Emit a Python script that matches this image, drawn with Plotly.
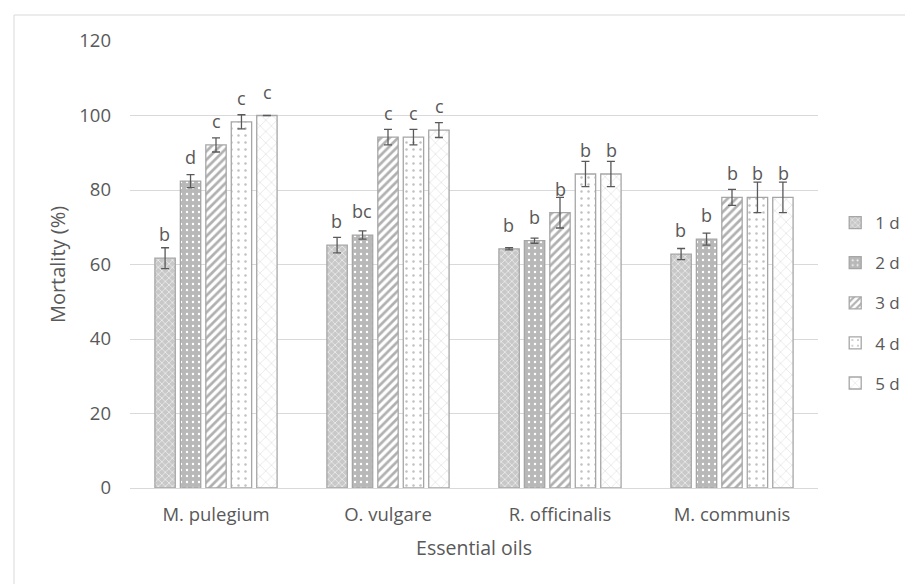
import plotly.graph_objects as go

oils = ["M. pulegium", "O. vulgare", "R. officinalis", "M. communis"]
days = ["1 d", "2 d", "3 d", "4 d", "5 d"]
mortality = {
    "1 d": [61.7, 65.2, 64.2, 62.8],
    "2 d": [82.4, 67.9, 66.4, 66.8],
    "3 d": [92.1, 94.2, 73.9, 78.0],
    "4 d": [98.3, 94.2, 84.3, 78.0],
    "5 d": [100.0, 96.1, 84.3, 78.0],
}
errors = {
    "1 d": [2.8, 2.1, 0.3, 1.5],
    "2 d": [1.75, 1.1, 0.7, 1.6],
    "3 d": [1.9, 2.1, 4.1, 2.15],
    "4 d": [1.9, 2.1, 3.4, 4.1],
    "5 d": [0.0, 2.0, 3.4, 4.1],
}
letters = {
    "1 d": ["b", "b", "b", "b"],
    "2 d": ["d", "bc", "b", "b"],
    "3 d": ["c", "c", "b", "b"],
    "4 d": ["c", "c", "b", "b"],
    "5 d": ["c", "c", "b", "b"],
}

patterns = {
    "1 d": dict(shape="x", bgcolor="#c8c8c8", fgcolor="#ffffff", size=5, solidity=0.2, fillmode="replace"),
    "2 d": dict(shape=".", bgcolor="#b8b8b8", fgcolor="#ffffff", size=6, solidity=0.12, fillmode="replace"),
    "3 d": dict(shape="/", bgcolor="#ffffff", fgcolor="#b0b0b0", size=6, solidity=0.45, fillmode="replace"),
    "4 d": dict(shape=".", bgcolor="#ffffff", fgcolor="#c0c0c0", size=7, solidity=0.1, fillmode="replace"),
    "5 d": dict(shape="x", bgcolor="#ffffff", fgcolor="#cccccc", size=8, solidity=0.1, fillmode="replace"),
}

txt = "#595959"
font = "Open Sans"

fig = go.Figure()
for d in days:
    fig.add_trace(go.Bar(
        name=d, x=oils, y=mortality[d],
        marker=dict(color="#ffffff", line=dict(color="#a6a6a6", width=1.3), pattern=patterns[d]),
        error_y=dict(type="data", array=errors[d], visible=True, color="#595959", thickness=1.3, width=4),
        legendgroup=d,
    ))

annotations = []
for i, d in enumerate(days):
    for j, oil in enumerate(oils):
        annotations.append(dict(
            x=oil, y=mortality[d][j], xref="x", yref="y", text=letters[d][j],
            showarrow=False, xshift=(i - 2) * 25.8, yshift=10, yanchor="bottom",
            font=dict(family=font, size=18, color=txt),
        ))

fig.update_layout(
    width=905, height=576,
    margin=dict(l=122, r=95, t=33, b=96, autoexpand=False),
    paper_bgcolor="white", plot_bgcolor="white",
    barmode="group", bargap=0.26, bargroupgap=0.2,
    font=dict(family=font, size=18, color=txt),
    showlegend=True,
    legend=dict(x=1.025, y=0.633, xanchor="left", yanchor="top",
                font=dict(family=font, size=17, color=txt),
                tracegroupgap=15, itemwidth=30, bgcolor="rgba(0,0,0,0)"),
    annotations=annotations,
    shapes=[dict(type="rect", xref="paper", yref="paper",
                 x0=(6 - 122) / 688, x1=1.3, y0=-0.5, y1=(480 - 7) / 447,
                 line=dict(color="#d9d9d9", width=1), layer="below")],
)
fig.update_xaxes(showgrid=False, showline=True, linecolor="#d9d9d9", linewidth=1,
                 ticks="", tickfont=dict(size=18.5, color=txt), automargin=False,
                 ticklabelstandoff=10,
                 title=dict(text="Essential oils", font=dict(size=19.5, color=txt), standoff=16))
fig.update_yaxes(range=[0, 120], dtick=20, showgrid=True, gridcolor="#d9d9d9", gridwidth=1,
                 zeroline=False, showline=False, ticks="", ticklabelstandoff=18,
                 tickfont=dict(size=18.5, color=txt), automargin=False,
                 title=dict(text="Mortality (%)", font=dict(size=20, color=txt), standoff=8))

fig.write_html("out.html")
